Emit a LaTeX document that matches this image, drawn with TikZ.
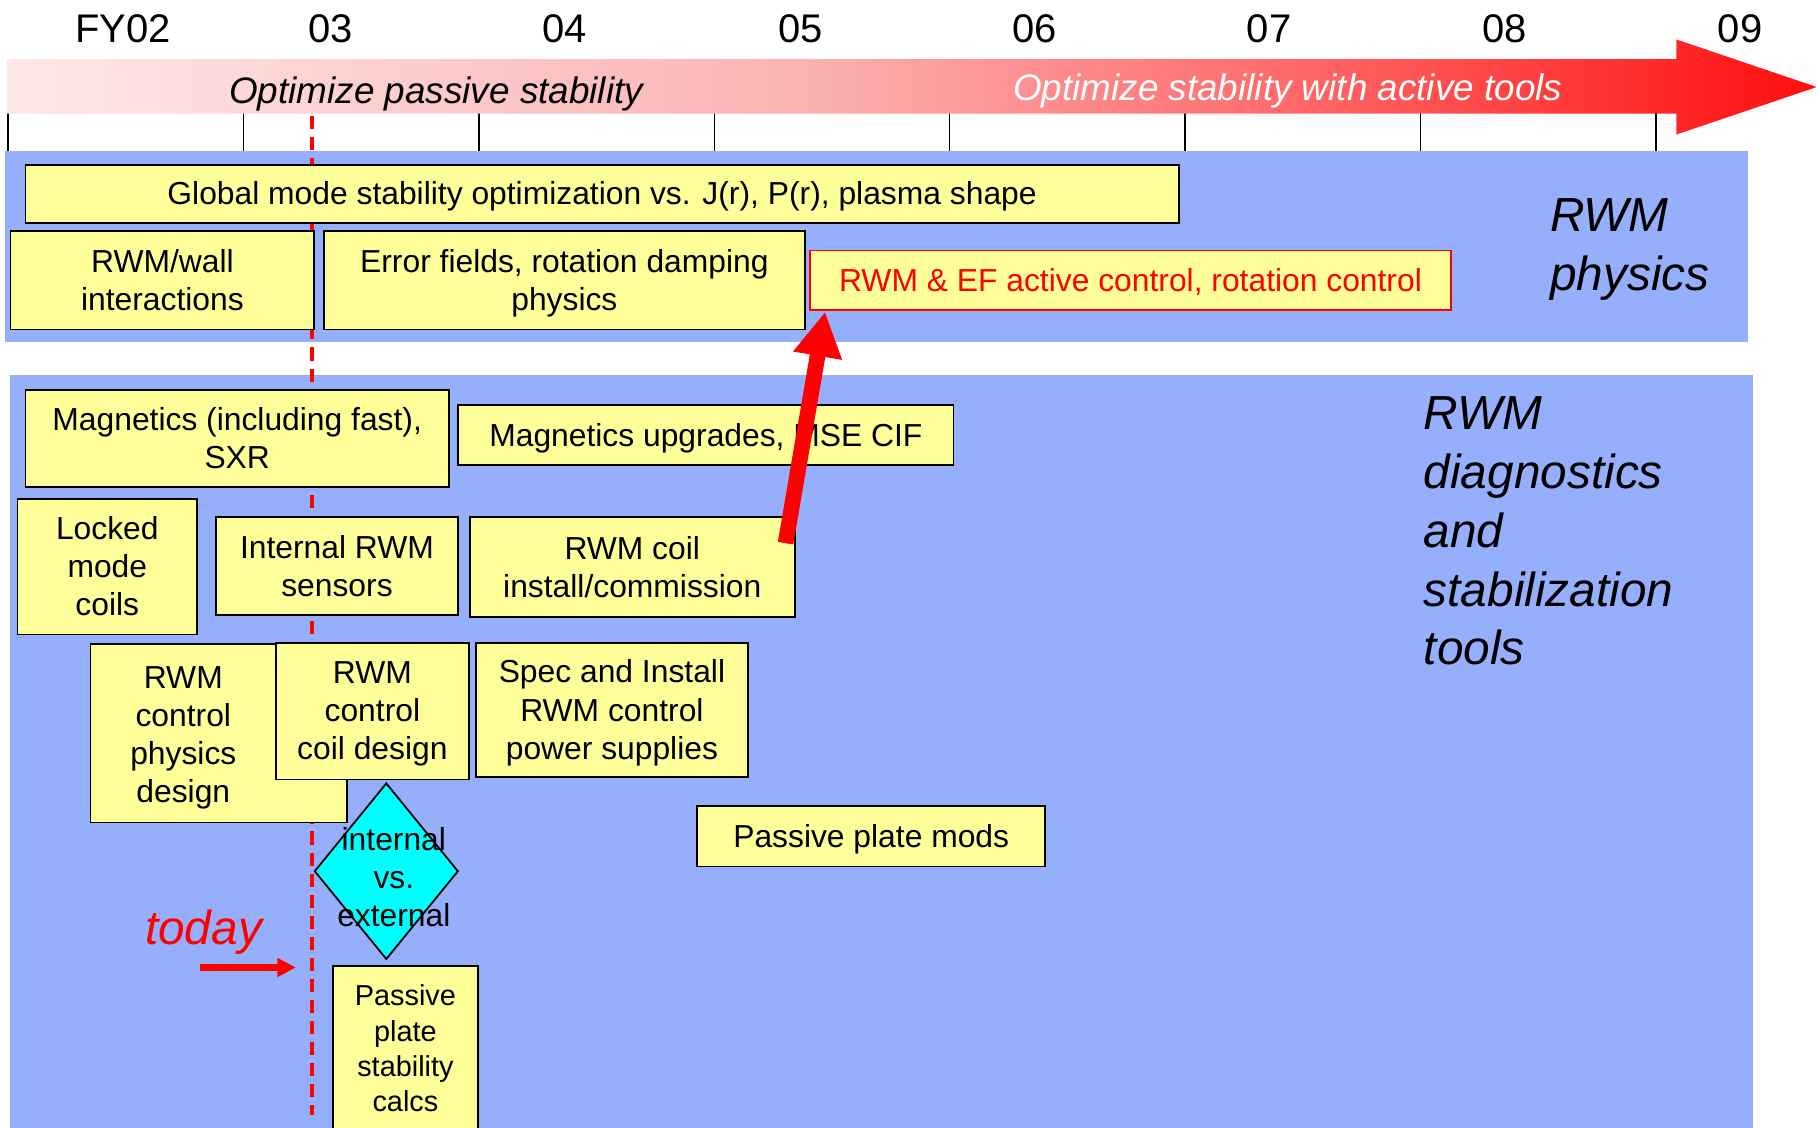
\documentclass[tikz,border=0pt]{standalone}
\usepackage{fontspec}
\setmainfont{Liberation Sans}
\usetikzlibrary{shapes.geometric}
\usetikzlibrary{arrows.meta,calc}

\definecolor{panelblue}{RGB}{150,175,253}
\definecolor{boxyellow}{RGB}{255,255,153}
\definecolor{diacyan}{RGB}{0,255,255}
\definecolor{bandL}{RGB}{255,232,232}
\definecolor{bandM}{RGB}{251,178,178}
\definecolor{bandN}{RGB}{255,108,108}
\definecolor{bandR}{RGB}{255,14,14}
\pgfdeclarehorizontalshading{bandfade}{100bp}{color(0bp)=(bandL); color(25bp)=(bandL); color(47bp)=(bandM); color(60bp)=(bandN); color(75bp)=(bandR); color(100bp)=(bandR)}

\newcommand{\unitpx}{0.025cm}
\newcommand{\boxfont}{\fontsize{19.5pt}{23.3pt}\selectfont}
\newcommand{\smallboxfont}{\fontsize{17.7pt}{21.6pt}\selectfont}
\newcommand{\yearfont}{\fontsize{24.5pt}{29pt}\selectfont}
\newcommand{\bandfont}{\fontsize{22.6pt}{27pt}\selectfont\itshape}
\newcommand{\sidefont}{\fontsize{29.3pt}{36pt}\selectfont\itshape}

\tikzset{
  ybox/.style={draw=black, line width=1.1pt, fill=boxyellow, font=\boxfont, align=center, inner sep=2pt, text depth=0.6pt},
  redbox/.style={ybox, draw=red, text=red},
  yearlbl/.style={font=\yearfont, anchor=base},
  sidelbl/.style={font=\sidefont, align=left, anchor=north west, inner sep=0pt},
  tick/.style={line width=0.9pt},
  nowline/.style={red, line width=2.3pt, dash pattern=on 8pt off 4.9pt},
  bigarrow/.style={red, line width=9.6pt, -{Triangle[length=0.96cm, width=1cm]}},
  nowarrow/.style={red, line width=4.2pt, -{Triangle[length=0.4cm, width=0.39cm]}}
}

\begin{document}
\begin{tikzpicture}[x=0.025cm, y=-0.025cm]
\useasboundingbox (0,0) rectangle (1568,972);
\clip (0,0) rectangle (1568,972);
% time axis
\foreach \k in {0,...,7}
  \draw[tick] (7+202.9*\k,82) -- (7+202.9*\k,134);
\shade[shading=bandfade] (6,51) -- (1445,51) -- (1445,34) -- (1566,75) -- (1445,116) -- (1445,98) -- (6,98) -- cycle;
\node (passlbl)[font=\bandfont, anchor=base] at (376,89) {Optimize passive stability};
\node (actlbl)[font=\bandfont, text=white, anchor=base] at (1110,87) {Optimize stability with active tools};
\foreach \xx/\yy in {106/FY02,285/03,487/04,690/05,892/06,1094/07,1297/08,1500/09}
  \node (yr\yy)[yearlbl] at (\xx,36.5) {\yy};
% panels
\fill[panelblue] (4.5,130) rectangle (1507,295);
\fill[panelblue] (9,323) rectangle (1511,985);
\coordinate (nowtop) at (269,100);
\coordinate (nowbot) at (269,961);
\draw[nowline] (nowtop) -- (nowbot);
\path (519,167) node(glob)[ybox, minimum width=994*\unitpx, minimum height=50*\unitpx]{Global mode stability optimization vs. J(r), P(r), plasma shape}
(140,241.5) node(wall)[ybox, minimum width=262*\unitpx, minimum height=85*\unitpx]{RWM/wall\\interactions}
(486.5,241.5) node(errf)[ybox, minimum width=415*\unitpx, minimum height=85*\unitpx]{Error fields, rotation damping\\physics}
(974.5,241.5) node(actc)[redbox, minimum width=553*\unitpx, minimum height=51*\unitpx]{RWM \& EF active control, rotation control}
(204.5,378) node(mag)[ybox, minimum width=365*\unitpx, minimum height=84*\unitpx]{Magnetics (including fast),\\SXR}
(608.5,375) node(magup)[ybox, minimum width=427*\unitpx, minimum height=52*\unitpx]{Magnetics upgrades, MSE CIF}
(92.5,488.5) node(lock)[ybox, minimum width=155*\unitpx, minimum height=117*\unitpx]{Locked\\mode\\coils}
(290.5,488) node(sens)[ybox, minimum width=209*\unitpx, minimum height=84*\unitpx]{Internal RWM\\sensors}
(545,489) node(coil)[ybox, minimum width=280*\unitpx, minimum height=86*\unitpx]{RWM coil\\install/commission}
(188.5,632) node(physd)[ybox, minimum width=221*\unitpx, minimum height=154*\unitpx]{}
(321,613) node(coild)[ybox, minimum width=166*\unitpx, minimum height=118*\unitpx]{RWM\\control\\coil design}
(527.5,612) node(spec)[ybox, minimum width=235*\unitpx, minimum height=116*\unitpx]{Spec and Install\\RWM control\\power supplies}
(333,751) node(dia)[diamond, draw=black, line width=1.1pt, fill=diacyan, minimum width=124*\unitpx, minimum height=152*\unitpx, inner sep=0pt]{}
(751,721) node(pmods)[ybox, minimum width=300*\unitpx, minimum height=52*\unitpx]{Passive plate mods}
(349.5,904) node(pcalc)[ybox, font=\smallboxfont, minimum width=125*\unitpx, minimum height=143*\unitpx]{Passive\\plate\\stability\\calcs};
\node (physdtxt)[font=\boxfont, align=center] at ($(physd.center)+(-30.5,4)$) {RWM\\control\\physics\\design};
\node (diatxt)[font=\boxfont, align=center] at ($(dia.center)+(6.5,5)$) {internal\\vs.\\external};
% side titles
\node (physlbl)[sidelbl] at (1336,171) {RWM\\physics};
\node (toollbl)[sidelbl] at (1227,342) {RWM\\diagnostics\\and\\stabilization\\tools};
\node (nowlbl)[font=\sidefont, text=red, anchor=base] at (175.5,814) {today};
\coordinate (nowtip) at (255,834);
\draw[nowarrow] ($(nowlbl.base)+(-3.5,20)$) -- (nowtip);
\draw[bigarrow] ($(coil.north east)+(-8.6,23)$) -- ($(actc.south west)+(14,1)$);
\end{tikzpicture}
\end{document}
